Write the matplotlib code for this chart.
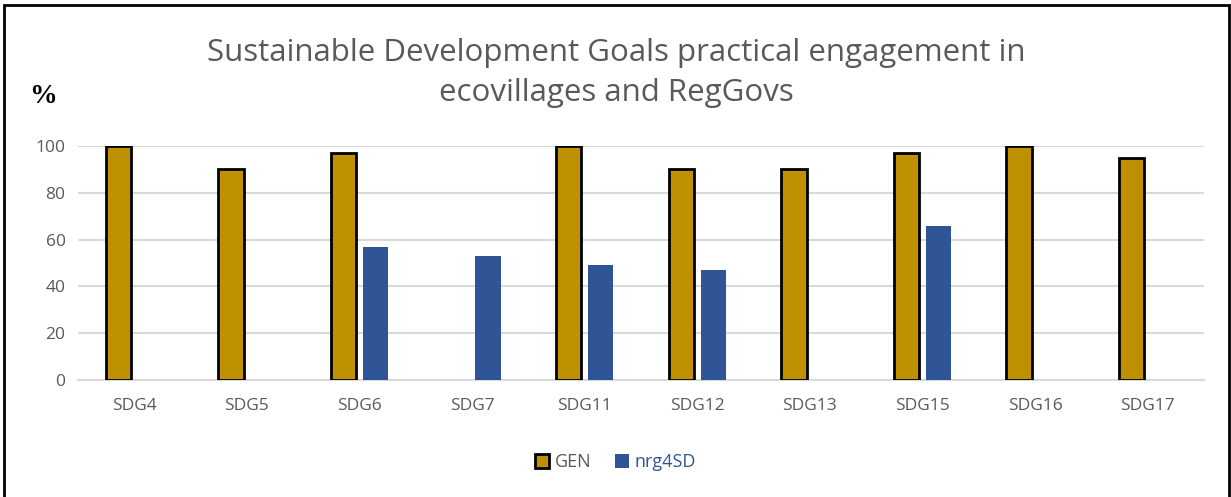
import numpy as np
import matplotlib.pyplot as plt
from matplotlib.patches import Rectangle

# ----------------------------
# Data
# ----------------------------

categories = ["SDG4", "SDG5", "SDG6", "SDG7", "SDG11",
              "SDG12", "SDG13", "SDG15", "SDG16", "SDG17"]

gen = [100, 90, 97, 0, 100, 90, 90, 97, 100, 95]

nrg4sd = [0, 0, 57, 53, 49, 47, 0, 66, 0, 0]

yticks = [0, 20, 40, 60, 80, 100]

# ----------------------------
# Plot
# ----------------------------

plt.rcParams["font.family"] = ["Open Sans", "DejaVu Sans"]

gray = "#595959"

fig = plt.figure(figsize=(12.31, 4.97), dpi=100)
ax = fig.add_axes([0.0634, 0.2354, 0.9146, 0.4708])

x = np.arange(len(categories))
w = 0.225
off = 0.142

gen_vals = np.array(gen, dtype=float)
nrg_vals = np.array(nrg4sd, dtype=float)

mask = gen_vals > 0
ax.bar(x[mask] - off, gen_vals[mask], w,
       color="#BF9000", edgecolor="black", linewidth=2,
       label="GEN", zorder=3)

mask = nrg_vals > 0
ax.bar(x[mask] + off, nrg_vals[mask], w,
       color="#2F5597", edgecolor="none",
       label="nrg4SD", zorder=3)

ax.set_xlim(-0.5, len(categories) - 0.5)
ax.set_ylim(0, 100)
ax.set_yticks(yticks)
ax.set_xticks(x)
ax.set_xticklabels(categories)

ax.grid(axis="y", color="#D9D9D9", linewidth=1.5, zorder=0)
ax.set_axisbelow(True)
for s in ["top", "right", "left"]:
    ax.spines[s].set_visible(False)
ax.spines["bottom"].set_color("#D9D9D9")
ax.spines["bottom"].set_linewidth(1.5)

ax.tick_params(axis="both", length=0, labelsize=12.5, colors=gray)
ax.tick_params(axis="x", pad=13)
ax.tick_params(axis="y", pad=9)

fig.text(0.501, 0.853,
         "Sustainable Development Goals practical engagement in\necovillages and RegGovs",
         ha="center", va="center", fontsize=22.5, color=gray,
         linespacing=1.45)

fig.text(0.035, 0.806, "%", fontsize=20, fontfamily="Liberation Serif",
         fontweight="bold", ha="center", va="center", color="black")

leg = fig.legend(loc="center", bbox_to_anchor=(0.5, 0.07), ncol=2,
                 frameon=False, fontsize=13, handlelength=0.8,
                 handleheight=0.8, handletextpad=0.3, columnspacing=1.3)
for t, c in zip(leg.get_texts(), [gray, "#2F5597"]):
    t.set_color(c)

fig.add_artist(Rectangle((0.003, -0.02), 0.995, 1.01,
                         transform=fig.transFigure, fill=False,
                         edgecolor="black", linewidth=2))

plt.savefig("out.png", dpi=100)
